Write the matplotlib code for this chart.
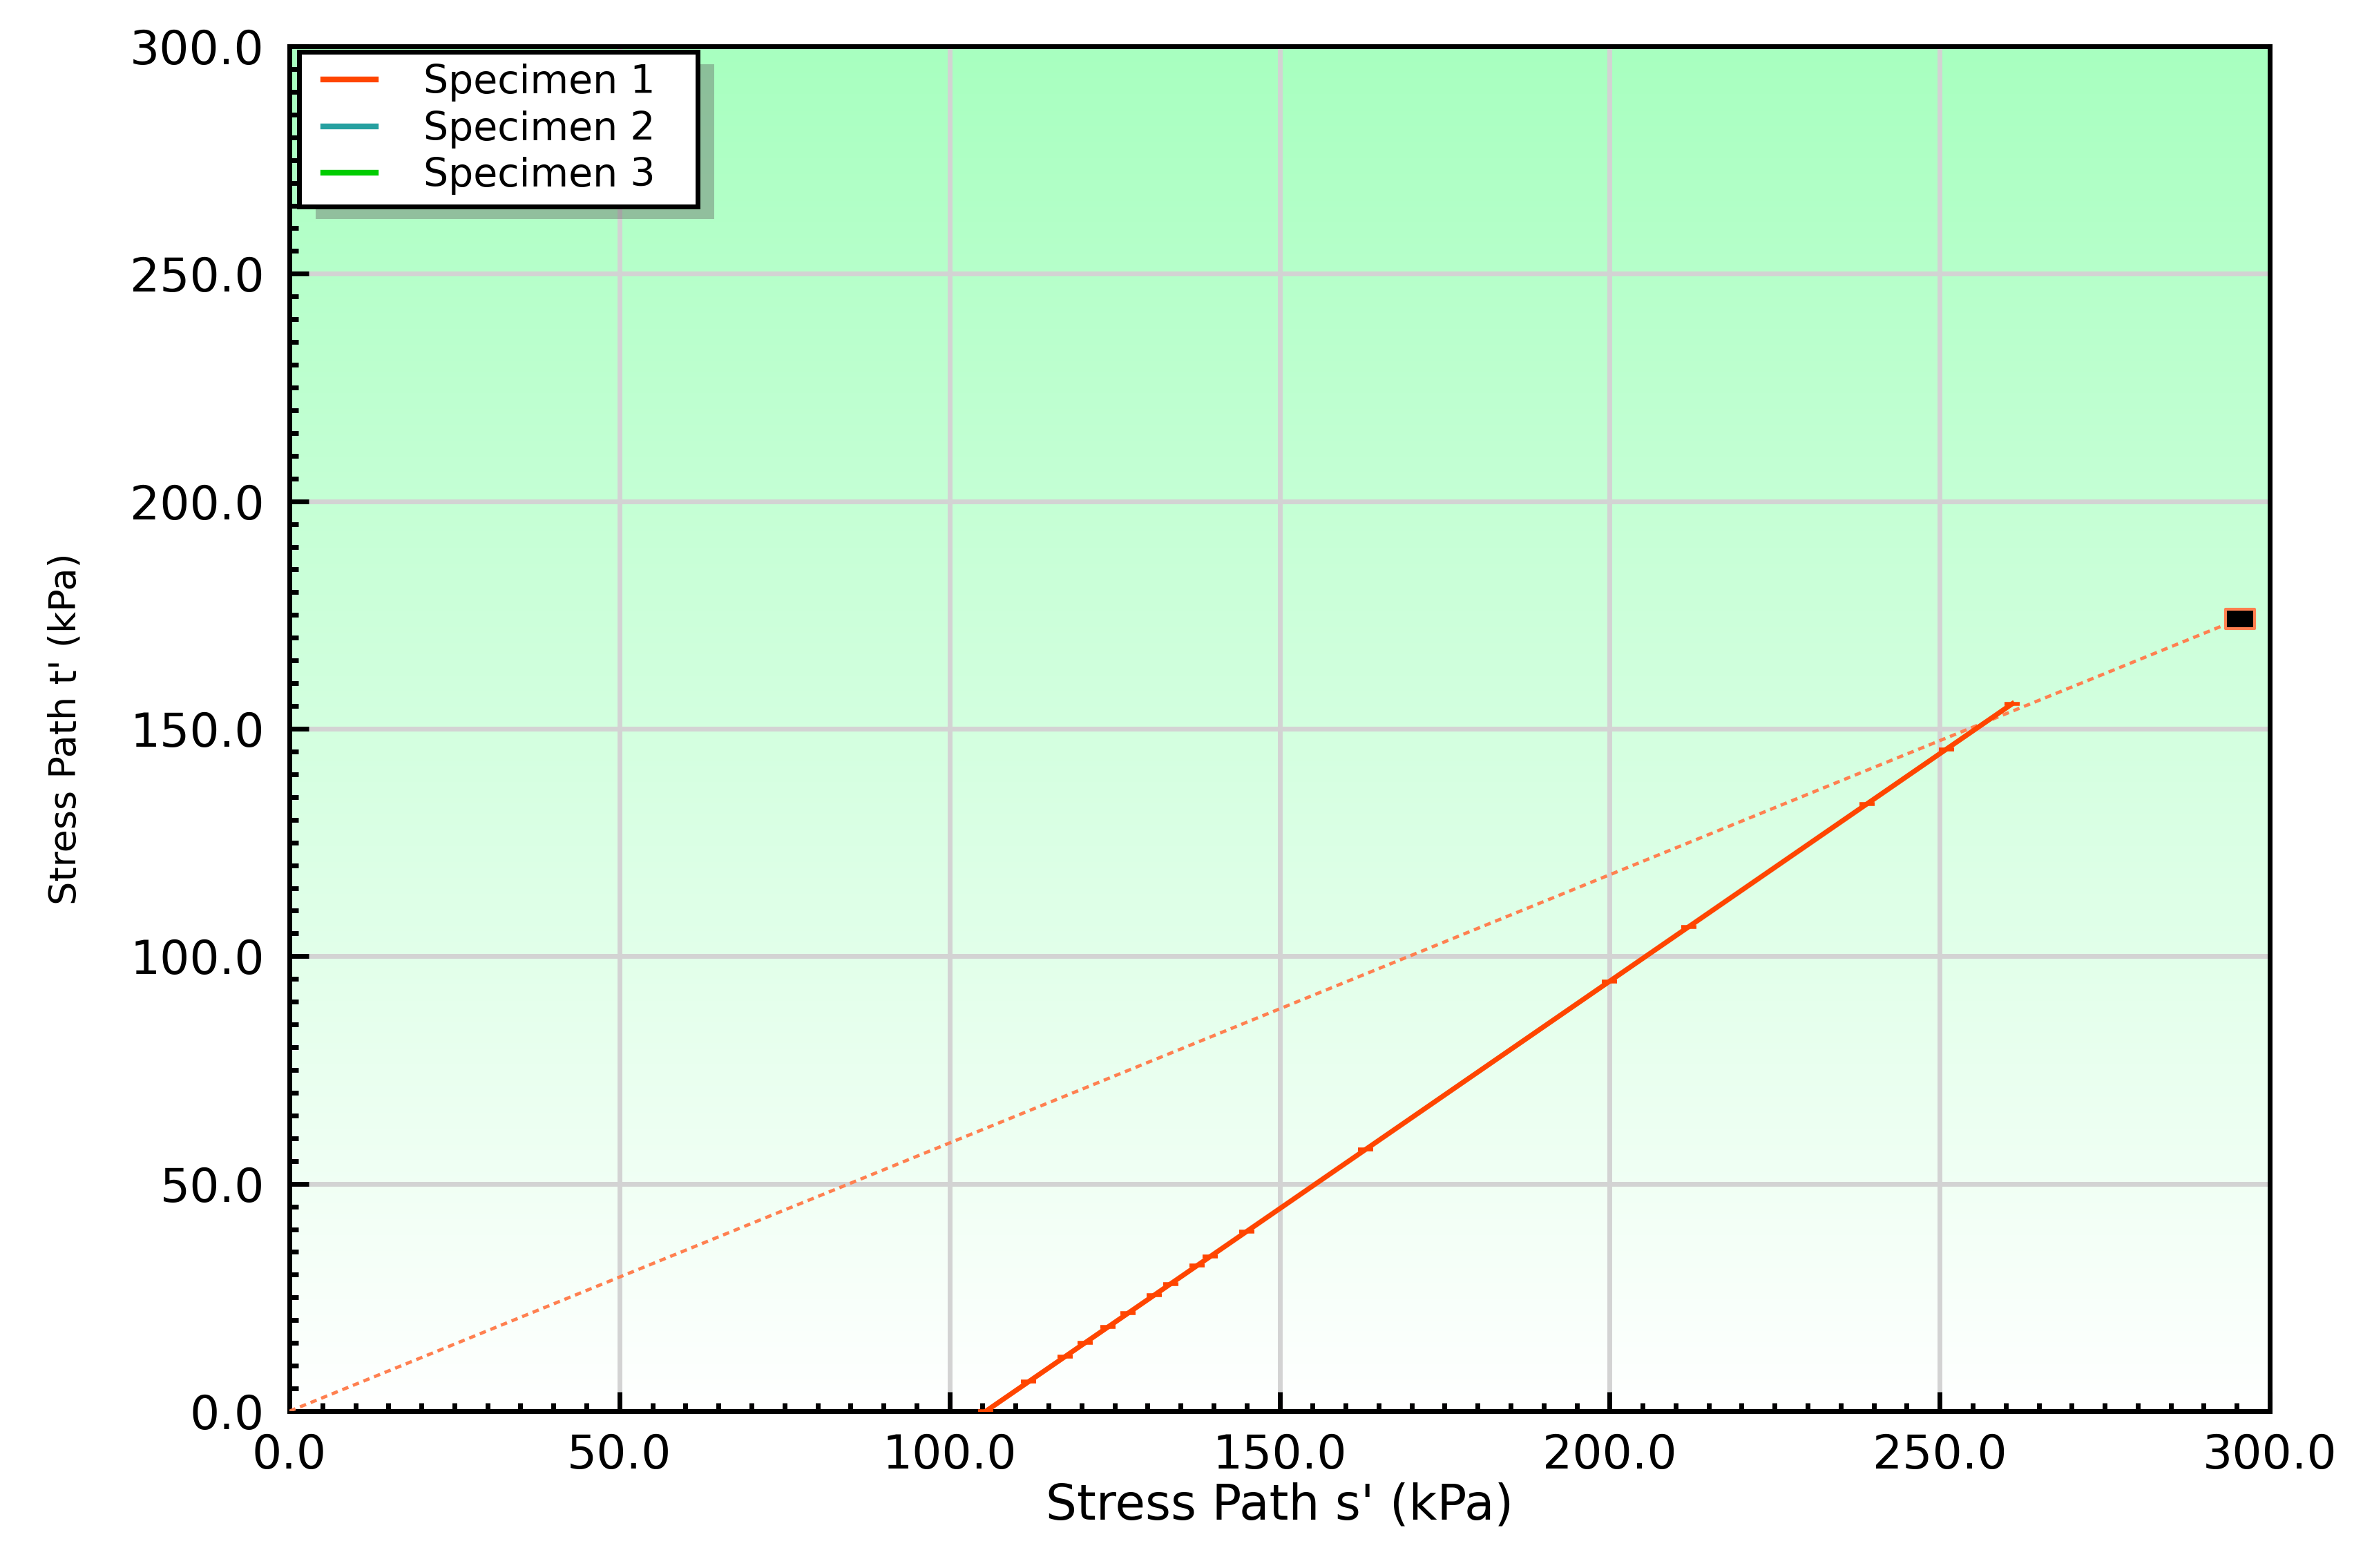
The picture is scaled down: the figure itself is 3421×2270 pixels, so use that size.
import matplotlib
matplotlib.use("Agg")
import matplotlib.pyplot as plt
import numpy as np
from matplotlib.ticker import MultipleLocator, FormatStrFormatter
from matplotlib.patches import Rectangle
from matplotlib.path import Path
from matplotlib.legend_handler import HandlerLine2D
from matplotlib import font_manager

# Specimen 1 stress path (s', t') in kPa
path_s = [105.5, 112.0, 117.5, 120.5, 124.0, 127.0, 131.0, 133.5, 137.5, 139.5, 145.0,
          163.0, 200.0, 212.0, 239.0, 251.0, 261.0]
path_t = [0.0, 6.5, 12.0, 15.0, 18.5, 21.5, 25.5, 28.0, 32.0, 34.0, 39.5,
          57.5, 94.5, 106.5, 133.5, 145.5, 155.5]

# line from origin to failure point
env_s = [0.0, 295.5]
env_t = [0.0, 174.2]

legend_labels = ['Specimen 1', 'Specimen 2', 'Specimen 3']
legend_colors = ['#FF4500', '#26A0A0', '#00CC00']

plt.rcParams['font.family'] = ['DejaVu Sans']

# condensed face for the vertical label, if there is one
names = {f.name for f in font_manager.fontManager.ttflist}
if 'Liberation Sans Narrow' in names:
    ylab_font, ylab_size = 'Liberation Sans Narrow', 46
else:
    ylab_font, ylab_size = 'DejaVu Sans', 39

W, H = 3421, 2270
fig = plt.figure(figsize=(W / 100, H / 100), dpi=100)
ax = fig.add_axes([419 / W, 1 - 2043 / H, (3286 - 419) / W, (2043 - 67) / H])

# green-to-white background
top = np.array([168, 255, 192]) / 255.0
bot = np.array([255, 255, 255]) / 255.0
f = np.linspace(0, 1, 256)[:, None]
grad = (top * (1 - f) + bot * f)[:, None, :]
ax.imshow(grad, extent=[0, 300, 0, 300], aspect='auto', origin='upper', zorder=-1)

ax.plot(env_s, env_t, color='#FF8050', lw=3.4, dashes=(2.0, 1.5), zorder=3)
ax.plot(path_s, path_t, color='#FF4500', lw=5.2, marker='_', ms=16, mew=4, zorder=4)

end_marker = Path([(-1.45, -1), (1.45, -1), (1.45, 1), (-1.45, 1), (-1.45, -1)],
                  [Path.MOVETO, Path.LINETO, Path.LINETO, Path.LINETO, Path.CLOSEPOLY])
ax.plot(env_s[-1:], env_t[-1:], marker=end_marker, ms=30, color='black',
        mec='#FF8050', mew=3, zorder=6)

ax.set_xlim(0, 300)
ax.set_ylim(0, 300)
ax.xaxis.set_major_locator(MultipleLocator(50))
ax.yaxis.set_major_locator(MultipleLocator(50))
ax.xaxis.set_minor_locator(MultipleLocator(5))
ax.yaxis.set_minor_locator(MultipleLocator(5))
ax.xaxis.set_major_formatter(FormatStrFormatter('%.1f'))
ax.yaxis.set_major_formatter(FormatStrFormatter('%.1f'))
ax.tick_params(which='major', direction='in', length=20, width=5, labelsize=49, pad=22)
ax.tick_params(axis='y', which='major', pad=26)
ax.tick_params(which='minor', direction='in', length=9, width=5)

ax.set_axisbelow(True)
ax.grid(True, which='major', color='#D3D3D3', lw=5)
for sp in ax.spines.values():
    sp.set_linewidth(5)
    sp.set_color('black')

ax.set_xlabel("Stress Path s' (kPa)", fontsize=51)
ax.set_ylabel("Stress Path t' (kPa)", fontsize=ylab_size, family=[ylab_font, 'DejaVu Sans'])
ax.xaxis.set_label_coords(0.5, -0.052)
ax.yaxis.set_label_coords(-0.104, 0.5)

handles = [plt.Line2D([], [], color=c, lw=6) for c in legend_colors]
leg = ax.legend(handles, legend_labels, loc='upper left',
                bbox_to_anchor=(0.005, 0.5, 0.201, 0.496), mode='expand',
                borderaxespad=0, fontsize=41, handlelength=1.65, handletextpad=1.2,
                labelspacing=0.22, borderpad=0.3, fancybox=False, framealpha=1,
                edgecolor='black', handler_map={plt.Line2D: HandlerLine2D(xpad=0.3)})
leg.get_frame().set_linewidth(5)
leg.set_zorder(10)

# drop shadow behind the legend
fig.canvas.draw()
bb = leg.get_window_extent()
shadow = Rectangle(((bb.x0 + 24) / W, (bb.y0 - 18) / H), bb.width / W, bb.height / H,
                   transform=fig.transFigure, facecolor='#606060', alpha=0.4,
                   edgecolor='none', zorder=9)
ax.add_patch(shadow)

fig.savefig('out.png', dpi=100, facecolor='white')
